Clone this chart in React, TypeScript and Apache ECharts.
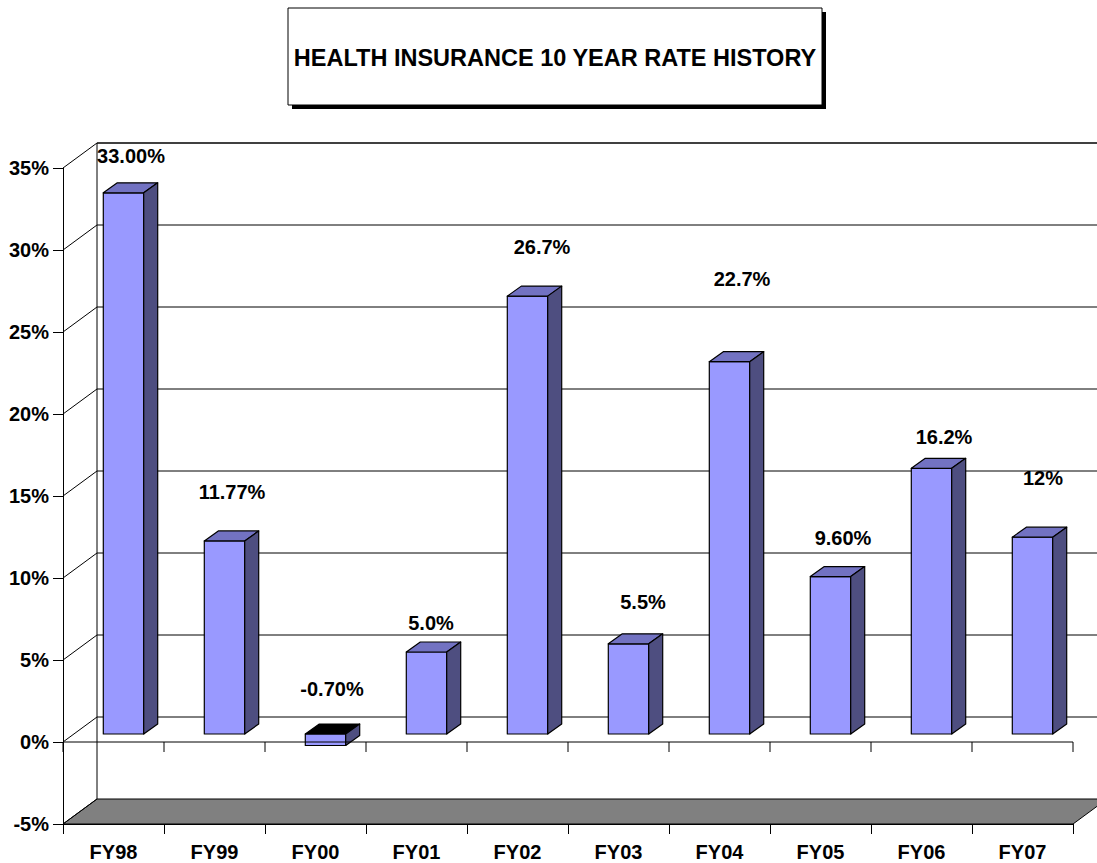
import React, { useEffect, useRef } from 'react';
import * as echarts from 'echarts';

// ---------- data ----------
const categories = ['FY98', 'FY99', 'FY00', 'FY01', 'FY02', 'FY03', 'FY04', 'FY05', 'FY06', 'FY07'];
const rates = [33.0, 11.77, -0.7, 5.0, 26.7, 5.5, 22.7, 9.6, 16.2, 12.0];
const rateLabels = ['33.00%', '11.77%', '-0.70%', '5.0%', '26.7%', '5.5%', '22.7%', '9.60%', '16.2%', '12%'];
const yTicks = [-5, 0, 5, 10, 15, 20, 25, 30, 35];
const titleText = 'HEALTH INSURANCE 10 YEAR RATE HISTORY';

// ---------- styling (pixel offsets of the hand-placed data labels) ----------
const labelDx = [17.5, 17.5, 16.5, 14.5, 24.5, 24.5, 22.5, 22.5, 22.5, 20.5];
const labelDy = [-45, -57, -53, -37, -57, -50, -91, -47, -39, -67];

const WALL_DX = 34;
const WALL_DY = -25;
const BAR_DX = 10;
const BAR_DY = -8;
const DEPTH_DX = 14;
const DEPTH_DY = -10;
const FONT = '"Liberation Sans", Arial, Helvetica, sans-serif';

export default function App() {
  const ref = useRef<HTMLDivElement>(null);

  useEffect(() => {
    if (!ref.current) return;
    const chart = echarts.init(ref.current, undefined, { renderer: 'svg' });
    const n = categories.length;
    const yMinV = yTicks[0];
    const yMaxV = yTicks[yTicks.length - 1];

    const frameRender = (params: any, api: any) => {
      const bw = api.size([1, 0])[0];
      const left = api.coord([0, 0])[0] - bw / 2;
      const right = api.coord([n - 1, 0])[0] + bw / 2;
      const y = (v: number) => api.coord([0, v])[1];
      const yMin = y(yMinV);
      const yMax = y(yMaxV);
      const children: any[] = [];
      // floor
      children.push({
        type: 'polygon',
        shape: {
          points: [
            [left, yMin],
            [right, yMin],
            [right + WALL_DX, yMin + WALL_DY],
            [left + WALL_DX, yMin + WALL_DY],
          ],
        },
        style: { fill: '#808080', stroke: '#000', lineWidth: 1 },
      });
      // back wall grid lines
      yTicks.forEach((v) => {
        if (v === yMinV) return;
        children.push({
          type: 'line',
          shape: {
            x1: left + WALL_DX,
            y1: y(v) + WALL_DY,
            x2: right + WALL_DX,
            y2: y(v) + WALL_DY,
          },
          style: { stroke: '#000', lineWidth: v === yMaxV ? 1.3 : 1 },
        });
      });
      // back wall left edge
      children.push({
        type: 'line',
        shape: { x1: left + WALL_DX, y1: yMax + WALL_DY, x2: left + WALL_DX, y2: yMin + WALL_DY },
        style: { stroke: '#000', lineWidth: 1 },
      });
      // side wall diagonals
      yTicks.forEach((v) => {
        children.push({
          type: 'line',
          shape: { x1: left, y1: y(v), x2: left + WALL_DX, y2: y(v) + WALL_DY },
          style: { stroke: '#000', lineWidth: 1 },
        });
      });
      return { type: 'group', children };
    };

    const barRender = (params: any, api: any) => {
      const i = api.value(0);
      const v = api.value(1);
      const bw = api.size([1, 0])[0];
      const barW = bw * 0.4;
      const c0 = api.coord([i, 0]);
      const c1 = api.coord([i, v]);
      const cx = c0[0] + BAR_DX;
      const xL = cx - barW / 2;
      const xR = cx + barW / 2;
      const yTop = Math.min(c0[1], c1[1]) + BAR_DY;
      const yBot = Math.max(c0[1], c1[1]) + BAR_DY;
      const lineStyle = { stroke: '#000', lineWidth: 1.2, lineJoin: 'round' };
      const children: any[] = [
        {
          type: 'polygon',
          shape: { points: [[xL, yTop], [xR, yTop], [xR, yBot], [xL, yBot]] },
          style: { fill: '#9999FF', ...lineStyle },
        },
        {
          type: 'polygon',
          shape: {
            points: [
              [xL, yTop],
              [xR, yTop],
              [xR + DEPTH_DX, yTop + DEPTH_DY],
              [xL + DEPTH_DX, yTop + DEPTH_DY],
            ],
          },
          style: { fill: v < 0 ? '#000' : '#7272C2', ...lineStyle },
        },
        {
          type: 'polygon',
          shape: {
            points: [
              [xR, yTop],
              [xR + DEPTH_DX, yTop + DEPTH_DY],
              [xR + DEPTH_DX, yBot + DEPTH_DY],
              [xR, yBot],
            ],
          },
          style: { fill: '#4E4E80', ...lineStyle },
        },
      ];
      const anchor = api.coord([i, Math.max(v, 0)]);
      children.push({
        type: 'text',
        x: c0[0] + labelDx[i],
        y: anchor[1] + labelDy[i],
        z2: 10,
        style: {
          text: rateLabels[i],
          fill: '#000',
          font: `bold 20px ${FONT}`,
          align: 'center',
          verticalAlign: 'middle',
          textAlign: 'center',
          textVerticalAlign: 'middle',
        },
      });
      return { type: 'group', children };
    };

    const zeroRender = (params: any, api: any) => {
      const bw = api.size([1, 0])[0];
      const left = api.coord([0, 0])[0] - bw / 2;
      const right = api.coord([n - 1, 0])[0] + bw / 2;
      const y0 = api.coord([0, 0])[1];
      const children: any[] = [
        {
          type: 'line',
          shape: { x1: left, y1: y0, x2: right, y2: y0 },
          style: { stroke: '#000', lineWidth: 1 },
        },
      ];
      for (let k = 0; k <= n; k++) {
        const x = left + k * bw;
        children.push({
          type: 'line',
          shape: { x1: x, y1: y0, x2: x, y2: y0 + 10 },
          style: { stroke: '#000', lineWidth: 1 },
        });
      }
      return { type: 'group', children };
    };

    chart.setOption({
      animation: false,
      backgroundColor: '#fff',
      grid: { left: 63, right: 24, top: 168, bottom: 39, containLabel: false },
      xAxis: {
        type: 'category',
        data: categories,
        boundaryGap: true,
        axisLine: { show: true, onZero: false, lineStyle: { color: '#000', width: 1 } },
        axisTick: { show: true, length: 10, alignWithLabel: false, lineStyle: { color: '#000' } },
        axisLabel: {
          show: true,
          margin: 18,
          color: '#000',
          fontFamily: FONT,
          fontWeight: 'bold',
          fontSize: 20,
        },
        splitLine: { show: false },
      },
      yAxis: {
        type: 'value',
        min: yMinV,
        max: yMaxV,
        interval: 5,
        axisLine: { show: true, lineStyle: { color: '#000', width: 1 } },
        axisTick: { show: true, length: 10, lineStyle: { color: '#000' } },
        axisLabel: {
          show: true,
          margin: 14,
          formatter: '{value}%',
          color: '#000',
          fontFamily: FONT,
          fontWeight: 'bold',
          fontSize: 20,
        },
        splitLine: { show: false },
      },
      graphic: [
        {
          type: 'rect',
          shape: { x: 292, y: 12, width: 534, height: 97 },
          style: { fill: '#000' },
        },
        {
          type: 'rect',
          shape: { x: 288, y: 8, width: 534, height: 97 },
          style: { fill: '#fff', stroke: '#000', lineWidth: 1 },
        },
        {
          type: 'text',
          x: 555,
          y: 58,
          style: {
            text: titleText,
            fill: '#000',
            font: `bold 23.5px ${FONT}`,
            align: 'center',
            verticalAlign: 'middle',
            textAlign: 'center',
            textVerticalAlign: 'middle',
          },
        },
      ],
      series: [
        {
          type: 'custom',
          name: 'frame',
          z: 1,
          silent: true,
          renderItem: frameRender,
          data: [[0, 0]],
          encode: { x: 0, y: 1 },
        },
        {
          type: 'custom',
          name: 'rate',
          z: 2,
          renderItem: barRender,
          data: rates.map((v, i) => [i, v]),
          encode: { x: 0, y: 1 },
        },
        {
          type: 'custom',
          name: 'zero',
          z: 3,
          silent: true,
          renderItem: zeroRender,
          data: [[0, 0]],
          encode: { x: 0, y: 1 },
        },
      ],
    });

    return () => chart.dispose();
  }, []);

  return (
    <div
      ref={ref}
      style={{ position: 'absolute', left: 0, top: 0, width: 1097, height: 863 }}
    />
  );
}
